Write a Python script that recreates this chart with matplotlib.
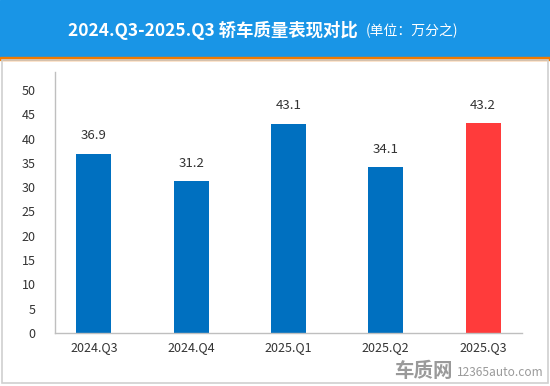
import matplotlib.pyplot as plt
from matplotlib.patches import Rectangle

plt.rcParams['font.family'] = ['Noto Sans CJK SC', 'DejaVu Sans']

# Data
quarters = ["2024.Q3", "2024.Q4", "2025.Q1", "2025.Q2", "2025.Q3"]
values = [36.9, 31.2, 43.1, 34.1, 43.2]
bar_colors = ["#0070C0", "#0070C0", "#0070C0", "#0070C0", "#FF3B3B"]
y_ticks = [0, 5, 10, 15, 20, 25, 30, 35, 40, 45, 50]

W, H = 550, 386
fig = plt.figure(figsize=(W / 100, H / 100), dpi=100)

# Header band and frame
fig.patches.append(Rectangle((0, 1 - 57 / H), 1, 57 / H, transform=fig.transFigure,
                             color="#1995E6", zorder=0))
fig.patches.append(Rectangle((0, 1 - 60 / H), 1, 3 / H, transform=fig.transFigure,
                             color="#F07A00", zorder=0))
fig.patches.append(Rectangle((1.5 / W, 3 / H), (W - 3.5) / W, (H - 63) / H,
                             transform=fig.transFigure, fill=False,
                             edgecolor="#D0D0D0", lw=1.2, zorder=0))

fig.text(68 / W, 1 - 30 / H, "2024.Q3-2025.Q3 轿车质量表现对比", color="white",
         fontsize=12.5, fontweight="bold", ha="left", va="center")
fig.text(366 / W, 1 - 31 / H, "(单位：万分之)", color="white",
         fontsize=10, ha="left", va="center")

# Axes
ax = fig.add_axes([55 / W, 1 - 333 / H, (522 - 55) / W, (333 - 72) / H])
x = range(len(quarters))
ax.bar(x, values, width=0.36, color=bar_colors, zorder=2)
for xi, v in zip(x, values):
    ax.text(xi, v + 2.3, f"{v}", ha="center", va="bottom", fontsize=9.5, color="#333333")

ax.set_xlim(-0.4, 4.4)
ax.set_ylim(0, 53.7)
ax.set_yticks(y_ticks)
ax.set_xticks(list(x))
ax.set_xticklabels(quarters)
ax.tick_params(axis="both", length=0, labelsize=9, colors="#333333")
ax.tick_params(axis="y", pad=14)
ax.tick_params(axis="x", pad=6)
for side in ["top", "right"]:
    ax.spines[side].set_visible(False)
for side in ["left", "bottom"]:
    ax.spines[side].set_color("#BFBFBF")
    ax.spines[side].set_linewidth(1)

# Watermark
fig.text(394 / W, 1 - 371 / H, "车质网", color="#9A9A9A", fontsize=14,
         fontweight="bold", ha="left", va="center")
fig.text(457 / W, 1 - 373 / H, "12365auto.com", color="#9A9A9A", fontsize=8.6,
         ha="left", va="center")

fig.savefig("out.png", dpi=100)
